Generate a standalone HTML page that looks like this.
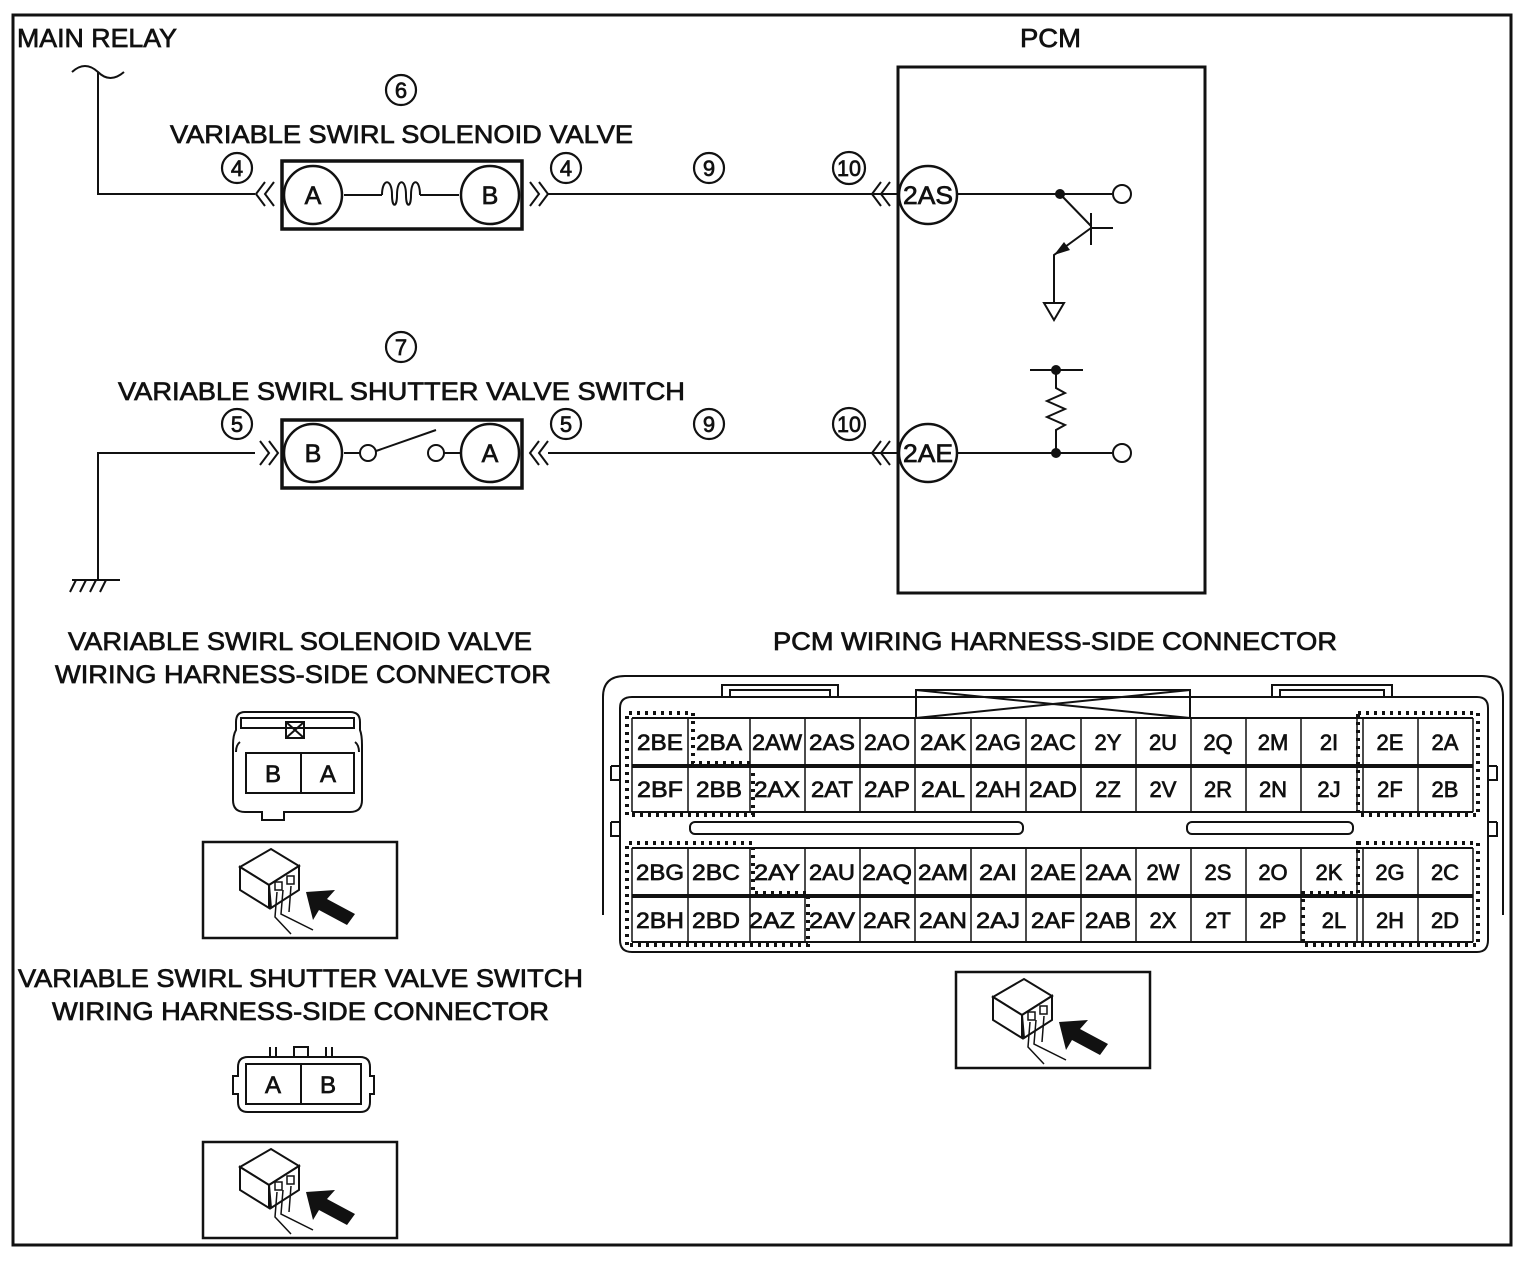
<!DOCTYPE html>
<html><head><meta charset="utf-8"><style>
html,body{margin:0;padding:0;background:#fff;}
svg{display:block;}
text{font-family:"Liberation Sans",sans-serif;fill:#111;stroke:#111;stroke-width:0.7;}
</style></head><body>
<svg width="1526" height="1262" viewBox="0 0 1526 1262" xmlns="http://www.w3.org/2000/svg">
<defs>
<g id="icon">
<rect x="0" y="0" width="194" height="96" fill="#fff" stroke="#111" stroke-width="2.5"/>
<polygon points="37,25 68,7 96,24 66,43" fill="#fff" stroke="#111" stroke-width="2"/>
<polygon points="37,25 66,43 66,66 37,48" fill="#fff" stroke="#111" stroke-width="2"/>
<polygon points="66,43 96,24 96,48 68,66" fill="#fff" stroke="#111" stroke-width="2"/>
<rect x="72" y="40" width="7" height="8" fill="none" stroke="#111" stroke-width="1.5"/>
<rect x="84" y="34" width="7" height="8" fill="none" stroke="#111" stroke-width="1.5"/>
<path d="M74 50 L72 75 L88 92 M80 48 L78 72 L110 88 M88 44 L86 70" fill="none" stroke="#111" stroke-width="1.5"/>
<polygon points="103,50 132,48 124,57 152,72 144,83 116,68 110,78" fill="#111"/>
</g>
</defs>
<rect x="13" y="15" width="1498" height="1230" fill="none" stroke="#111" stroke-width="3"/>

<text x="17" y="47" font-size="26" textLength="160" lengthAdjust="spacingAndGlyphs">MAIN RELAY</text>
<text x="1020" y="47" font-size="26" textLength="61" lengthAdjust="spacingAndGlyphs">PCM</text>

<g fill="none" stroke="#111" stroke-width="2">
<path d="M72 72 Q85 60 98 72 Q110 84 124 72"/>
<path d="M98 72 V194 H255"/>
<path d="M265 182 L256 194 L265 206 M274 182 L265 194 L274 206"/>
<path d="M530 182 L539 194 L530 206 M539 182 L548 194 L539 206"/>
<path d="M890 182 L881 194 L890 206 M881 182 L872 194 L881 206"/>
<path d="M548 194 H897"/>
<path d="M344 195 H382 M420 195 H459"/>
<path d="M382 195 C382 178 392 178 392 195 C392 208 397 208 397 195 C397 178 406 178 406 195 C406 208 411 208 411 195 C411 178 420 178 420 195"/>
<path d="M958 194 H1112"/>
<path d="M1060 194 L1091 226"/>
<path d="M1091 213 V245 M1091 228 H1113"/>
<path d="M1091 228 L1054 255 V302"/>
<path d="M1044 303 H1064 L1054 320 Z"/>
<path d="M98 580 V453 H255"/>
<path d="M260 441 L269 453 L260 465 M269 441 L278 453 L269 465"/>
<path d="M539 441 L530 453 L539 465 M548 441 L539 453 L548 465"/>
<path d="M890 441 L881 453 L890 465 M881 441 L872 453 L881 465"/>
<path d="M548 453 H897"/>
<path d="M344 453 H360 M444 453 H460"/>
<path d="M376 451 L436 430"/>
<path d="M958 453 H1112"/>
<path d="M1030 370 H1083 M1056 370 V388 L1065 393 L1047 401 L1065 409 L1047 417 L1065 425 L1056 430 V453"/>
<path d="M72 580 H120 M76 580 L70 592 M86 580 L80 592 M96 580 L90 592 M106 580 L100 592"/>
</g>
<circle cx="1060" cy="194" r="5" fill="#111"/>
<circle cx="1056" cy="370" r="5" fill="#111"/>
<circle cx="1056" cy="453" r="5" fill="#111"/>
<polygon points="1054,255 1070,250 1064,242" fill="#111"/>
<circle cx="1122" cy="194" r="9" fill="#fff" stroke="#111" stroke-width="2"/>
<circle cx="1122" cy="453" r="9" fill="#fff" stroke="#111" stroke-width="2"/>
<circle cx="368" cy="453" r="8" fill="#fff" stroke="#111" stroke-width="2"/>
<circle cx="436" cy="453" r="8" fill="#fff" stroke="#111" stroke-width="2"/>

<rect x="282" y="161" width="240" height="68" fill="none" stroke="#111" stroke-width="3.5"/>
<rect x="282" y="420" width="240" height="68" fill="none" stroke="#111" stroke-width="3.5"/>
<rect x="898" y="67" width="307" height="526" fill="none" stroke="#111" stroke-width="3"/>
<g fill="#fff" stroke="#111" stroke-width="2.5">
<circle cx="313" cy="195" r="29"/><circle cx="490" cy="195" r="29"/>
<circle cx="313" cy="453" r="29"/><circle cx="490" cy="453" r="29"/>
<circle cx="928" cy="195" r="29"/><circle cx="928" cy="453" r="29"/>
</g>
<g font-size="25" text-anchor="middle">
<text x="313" y="204">A</text><text x="490" y="204">B</text>
<text x="313" y="462">B</text><text x="490" y="462">A</text>
<text x="928" y="204" textLength="50" lengthAdjust="spacingAndGlyphs">2AS</text>
<text x="928" y="462" textLength="50" lengthAdjust="spacingAndGlyphs">2AE</text>
</g>
<g fill="none" stroke="#111" stroke-width="2.2">
<circle cx="401" cy="90" r="15"/><circle cx="237" cy="168" r="15"/><circle cx="566" cy="168" r="15"/>
<circle cx="709" cy="168" r="15"/><circle cx="849" cy="168" r="16"/>
<circle cx="401" cy="347" r="15"/><circle cx="237" cy="424" r="15"/><circle cx="566" cy="424" r="15"/>
<circle cx="709" cy="424" r="15"/><circle cx="849" cy="424" r="16"/>
</g>
<g font-size="22" text-anchor="middle">
<text x="401" y="98">6</text><text x="237" y="176">4</text><text x="566" y="176">4</text>
<text x="709" y="176">9</text><text x="849" y="176" textLength="24" lengthAdjust="spacingAndGlyphs">10</text>
<text x="401" y="355">7</text><text x="237" y="432">5</text><text x="566" y="432">5</text>
<text x="709" y="432">9</text><text x="849" y="432" textLength="24" lengthAdjust="spacingAndGlyphs">10</text>
</g>
<g font-size="25">
<text x="170" y="143" textLength="463" lengthAdjust="spacingAndGlyphs">VARIABLE SWIRL SOLENOID VALVE</text>
<text x="118" y="400" textLength="567" lengthAdjust="spacingAndGlyphs">VARIABLE SWIRL SHUTTER VALVE SWITCH</text>
<text x="68" y="650" textLength="464" lengthAdjust="spacingAndGlyphs">VARIABLE SWIRL SOLENOID VALVE</text>
<text x="55" y="683" textLength="496" lengthAdjust="spacingAndGlyphs">WIRING HARNESS-SIDE CONNECTOR</text>
<text x="18" y="987" textLength="565" lengthAdjust="spacingAndGlyphs">VARIABLE SWIRL SHUTTER VALVE SWITCH</text>
<text x="52" y="1020" textLength="497" lengthAdjust="spacingAndGlyphs">WIRING HARNESS-SIDE CONNECTOR</text>
<text x="773" y="650" textLength="564" lengthAdjust="spacingAndGlyphs">PCM WIRING HARNESS-SIDE CONNECTOR</text>
</g>

<g fill="none" stroke="#111" stroke-width="2">
<path d="M245 712 H350 Q360 712 360 722 V730 Q362 735 362 745 V800 Q362 812 350 812 H284 V820 H262 V812 H245 Q233 812 233 800 V745 Q233 735 236 730 V722 Q236 712 245 712 Z"/>
<path d="M241 718 H354 V728 H241 Z"/>
<path d="M286 722 H304 V738 H286 Z M286 722 L304 738 M304 722 L286 738"/>
<path d="M240 742 Q236 745 236 752 M355 742 Q359 745 359 752"/>
<rect x="246" y="753" width="108" height="40"/>
<path d="M301 753 V793"/>
</g>
<text x="273" y="782" font-size="24" text-anchor="middle">B</text>
<text x="328" y="782" font-size="24" text-anchor="middle">A</text>
<use href="#icon" x="203" y="842"/>

<g fill="none" stroke="#111" stroke-width="2">
<path d="M248 1057 H360 Q370 1057 370 1067 V1076 H374 V1094 H370 V1102 Q370 1112 360 1112 H248 Q238 1112 238 1102 V1094 H233 V1076 H238 V1067 Q238 1057 248 1057 Z"/>
<rect x="246" y="1064" width="115" height="40"/>
<path d="M301 1064 V1104"/>
<path d="M270 1047 V1057 M276 1047 V1057 M326 1047 V1057 M332 1047 V1057"/>
<rect x="294" y="1047" width="14" height="10"/>
</g>
<text x="273" y="1093" font-size="24" text-anchor="middle">A</text>
<text x="328" y="1093" font-size="24" text-anchor="middle">B</text>
<use href="#icon" x="203" y="1142"/>
<use href="#icon" x="956" y="972"/>

<g fill="none" stroke="#111" stroke-width="2">
<path d="M603 915 V697 Q603 676 625 676 H1482 Q1503 676 1503 697 V915"/>
<path d="M620 940 V708 Q620 697 632 697 H1477 Q1488 697 1488 708 V940 Q1488 952 1477 952 H632 Q620 952 620 940 Z"/>
<path d="M611 766 H620 M611 766 V780 H620 M611 822 V836 H620 M611 822 H620"/>
<path d="M1497 766 H1488 M1497 766 V780 H1488 M1497 822 V836 H1488 M1497 822 H1488"/>
<path d="M722 697 V685 H838 V697 M730 697 V690 H830 V697"/>
<path d="M1272 697 V685 H1392 V697 M1280 697 V690 H1384 V697"/>
<path d="M916 718 V690 H1190 V718 M916 690 L1190 718 M1190 690 L916 718"/>
<rect x="690" y="822" width="333" height="12" rx="5"/>
<rect x="1187" y="822" width="166" height="12" rx="5"/>
<path d="M632 718 H1473 M632 765 H1473 M632 767 H1473 M632 812 H1473 M632 848 H1473 M632 895 H1473 M632 897 H1473 M632 942 H1473"/>
</g>
<g stroke="#111" stroke-width="1.5" fill="none">
<path d="M632 718 V812 M688 718 V812 M750 718 V812 M805 718 V812 M860 718 V812 M915 718 V812 M971 718 V812 M1026 718 V812 M1081 718 V812 M1136 718 V812 M1191 718 V812 M1246 718 V812 M1301 718 V812 M1357 718 V812 M1363 718 V812 M1418 718 V812 M1473 718 V812"/>
<path d="M632 848 V942 M688 848 V942 M750 848 V942 M805 848 V942 M860 848 V942 M915 848 V942 M971 848 V942 M1026 848 V942 M1081 848 V942 M1136 848 V942 M1191 848 V942 M1246 848 V942 M1301 848 V942 M1357 848 V942 M1363 848 V942 M1418 848 V942 M1473 848 V942"/>
</g>
<g stroke="#111" stroke-width="4" stroke-dasharray="3 5" fill="none">
<path d="M627 815 V713 H693 V763 H753 V815 Z"/>
<path d="M1358 713 H1478 V815 H1358 Z"/>
<path d="M627 945 V843 H753 V893 H808 V945 Z"/>
<path d="M1358 843 H1478 V945 H1303 V893 H1358 Z"/>
</g>
<g font-size="22" text-anchor="middle">
<text x="660" y="750" textLength="46" lengthAdjust="spacingAndGlyphs">2BE</text>
<text x="719" y="750" textLength="46" lengthAdjust="spacingAndGlyphs">2BA</text>
<text x="777" y="750" textLength="50" lengthAdjust="spacingAndGlyphs">2AW</text>
<text x="832" y="750" textLength="46" lengthAdjust="spacingAndGlyphs">2AS</text>
<text x="887" y="750" textLength="46" lengthAdjust="spacingAndGlyphs">2AO</text>
<text x="943" y="750" textLength="46" lengthAdjust="spacingAndGlyphs">2AK</text>
<text x="998" y="750" textLength="46" lengthAdjust="spacingAndGlyphs">2AG</text>
<text x="1053" y="750" textLength="46" lengthAdjust="spacingAndGlyphs">2AC</text>
<text x="1108" y="750">2Y</text><text x="1163" y="750">2U</text><text x="1218" y="750">2Q</text>
<text x="1273" y="750">2M</text><text x="1329" y="750">2I</text>
<text x="1390" y="750">2E</text><text x="1445" y="750">2A</text>
<text x="660" y="797" textLength="46" lengthAdjust="spacingAndGlyphs">2BF</text>
<text x="719" y="797" textLength="46" lengthAdjust="spacingAndGlyphs">2BB</text>
<text x="777" y="797" textLength="46" lengthAdjust="spacingAndGlyphs">2AX</text>
<text x="832" y="797" textLength="42" lengthAdjust="spacingAndGlyphs">2AT</text>
<text x="887" y="797" textLength="46" lengthAdjust="spacingAndGlyphs">2AP</text>
<text x="943" y="797" textLength="44" lengthAdjust="spacingAndGlyphs">2AL</text>
<text x="998" y="797" textLength="46" lengthAdjust="spacingAndGlyphs">2AH</text>
<text x="1053" y="797" textLength="48" lengthAdjust="spacingAndGlyphs">2AD</text>
<text x="1108" y="797">2Z</text><text x="1163" y="797">2V</text><text x="1218" y="797">2R</text>
<text x="1273" y="797">2N</text><text x="1329" y="797">2J</text>
<text x="1390" y="797">2F</text><text x="1445" y="797">2B</text>
<text x="660" y="880" textLength="48" lengthAdjust="spacingAndGlyphs">2BG</text>
<text x="716" y="880" textLength="48" lengthAdjust="spacingAndGlyphs">2BC</text>
<text x="777" y="880" textLength="46" lengthAdjust="spacingAndGlyphs">2AY</text>
<text x="832" y="880" textLength="46" lengthAdjust="spacingAndGlyphs">2AU</text>
<text x="887" y="880" textLength="50" lengthAdjust="spacingAndGlyphs">2AQ</text>
<text x="943" y="880" textLength="50" lengthAdjust="spacingAndGlyphs">2AM</text>
<text x="998" y="880" textLength="38" lengthAdjust="spacingAndGlyphs">2AI</text>
<text x="1053" y="880" textLength="46" lengthAdjust="spacingAndGlyphs">2AE</text>
<text x="1108" y="880" textLength="46" lengthAdjust="spacingAndGlyphs">2AA</text>
<text x="1163" y="880">2W</text><text x="1218" y="880">2S</text><text x="1273" y="880">2O</text>
<text x="1329" y="880">2K</text><text x="1390" y="880">2G</text><text x="1445" y="880">2C</text>
<text x="660" y="928" textLength="48" lengthAdjust="spacingAndGlyphs">2BH</text>
<text x="716" y="928" textLength="48" lengthAdjust="spacingAndGlyphs">2BD</text>
<text x="772" y="928" textLength="46" lengthAdjust="spacingAndGlyphs">2AZ</text>
<text x="832" y="928" textLength="46" lengthAdjust="spacingAndGlyphs">2AV</text>
<text x="887" y="928" textLength="48" lengthAdjust="spacingAndGlyphs">2AR</text>
<text x="943" y="928" textLength="48" lengthAdjust="spacingAndGlyphs">2AN</text>
<text x="998" y="928" textLength="44" lengthAdjust="spacingAndGlyphs">2AJ</text>
<text x="1053" y="928" textLength="44" lengthAdjust="spacingAndGlyphs">2AF</text>
<text x="1108" y="928" textLength="46" lengthAdjust="spacingAndGlyphs">2AB</text>
<text x="1163" y="928">2X</text><text x="1218" y="928">2T</text><text x="1273" y="928">2P</text>
<text x="1334" y="928">2L</text><text x="1390" y="928">2H</text><text x="1445" y="928">2D</text>
</g>
</svg>
</body></html>
